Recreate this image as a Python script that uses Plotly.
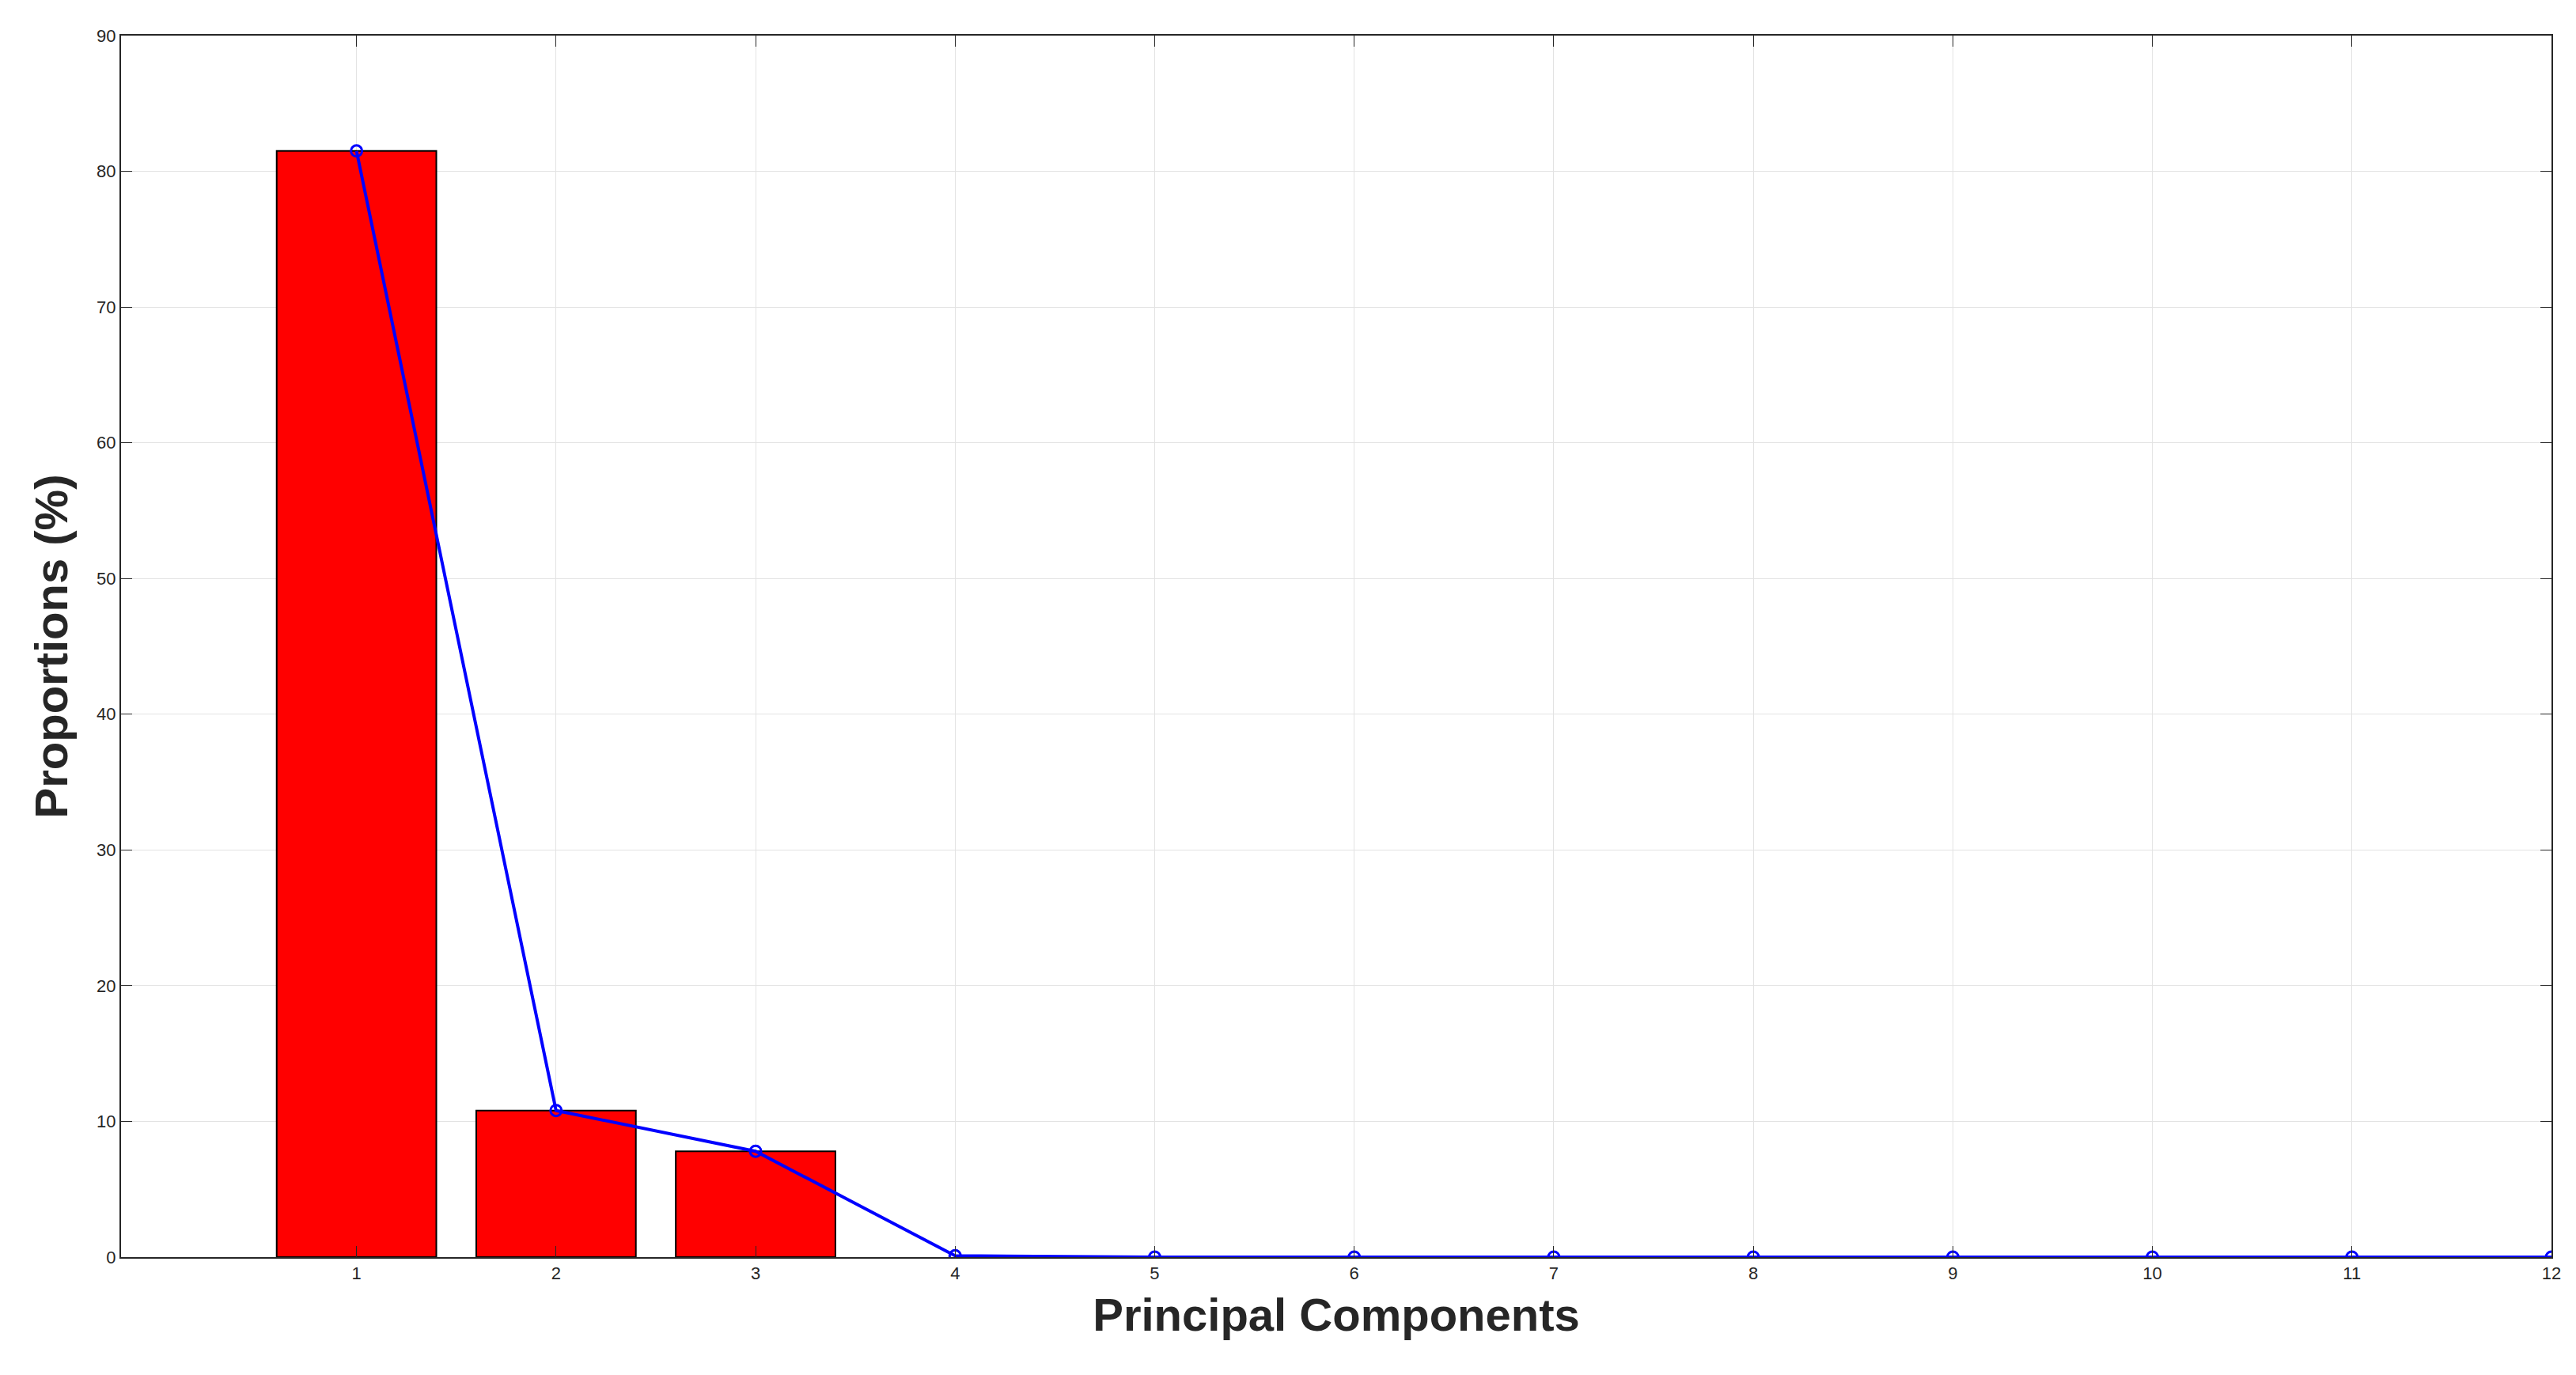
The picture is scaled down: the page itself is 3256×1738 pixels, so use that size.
import plotly.graph_objects as go

components = list(range(1, 13))
bar_values = [81.5, 10.8, 7.8, 0, 0, 0, 0, 0, 0, 0, 0, 0]
line_values = [81.5, 10.8, 7.8, 0.1, 0.0, 0.0, 0.0, 0.0, 0.0, 0.0, 0.0, 0.0]
y_ticks = list(range(0, 91, 10))

fig = go.Figure()
fig.add_trace(go.Bar(x=components[:3], y=bar_values[:3], width=0.8,
                     marker=dict(color="#ff0000", line=dict(color="black", width=2))))
fig.add_trace(go.Scatter(x=components, y=line_values, mode="lines+markers",
                         line=dict(color="#0000ff", width=4),
                         marker=dict(symbol="circle-open", size=14, color="#0000ff", line=dict(width=3))))
axis_common = dict(showline=True, linecolor="#262626", linewidth=2, mirror="ticks",
                   ticks="inside", ticklen=14, tickcolor="#262626",
                   showgrid=True, gridcolor="#e3e3e3", gridwidth=1,
                   tickfont=dict(family="Liberation Sans Narrow, Arial Narrow, Liberation Sans", size=22, color="#262626"),
                   zeroline=False)
fig.update_xaxes(range=[-0.18, 12], tickvals=components, **axis_common,
                 title=dict(text="<b>Principal Components</b>", font=dict(family="Liberation Sans", size=58, color="#262626"), standoff=20))
fig.update_yaxes(range=[0, 90], tickvals=y_ticks, **axis_common,
                 title=dict(text="<b>Proportions (%)</b>", font=dict(family="Liberation Sans", size=58, color="#262626"), standoff=18))
fig.update_layout(width=3256, height=1738, showlegend=False,
                  plot_bgcolor="white", paper_bgcolor="white",
                  margin=dict(l=145, r=39, t=37, b=157))
fig.write_html("out.html")
